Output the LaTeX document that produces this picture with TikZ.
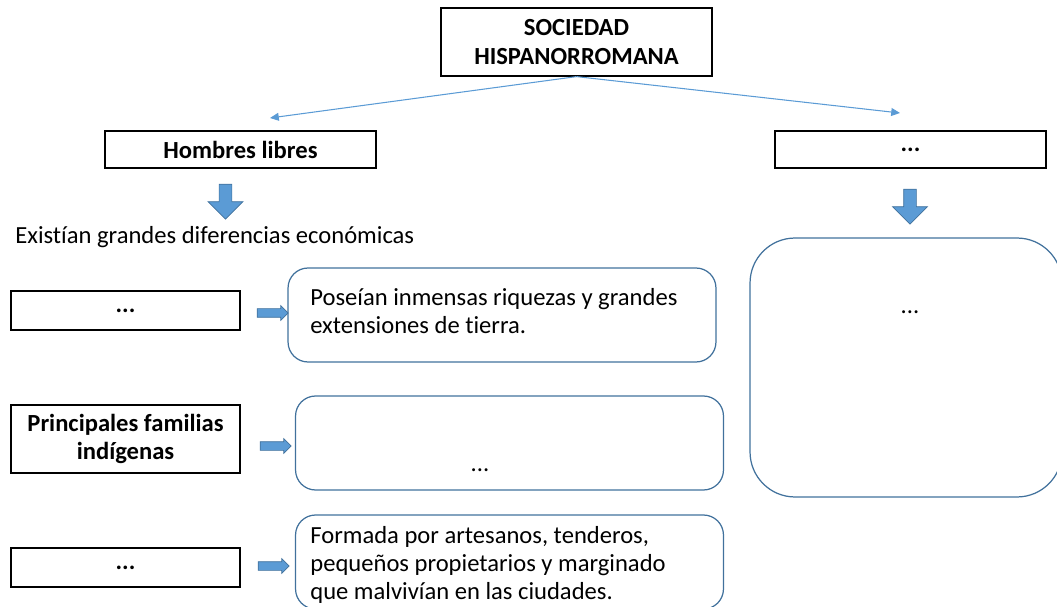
\documentclass[tikz,border=0pt]{standalone}
\usepackage{fontspec}
\setmainfont{Carlito}[Ligatures=NoCommon]
\usepackage{xcolor}
\usepackage{tikz}
\usetikzlibrary{shapes,arrows,arrows.meta,positioning}

\definecolor{flecha}{RGB}{91,155,213}
\definecolor{borde}{RGB}{65,113,156}

\begin{document}
\begin{tikzpicture}[
    x=0.02cm, y=-0.02cm,
    font=\fontsize{14}{16}\selectfont,
    caja/.style={draw=black, line width=0.7pt, inner sep=0pt, align=center, font=\fontsize{14}{16}\selectfont\bfseries},
    globo/.style={draw=borde, line width=0.7pt, rounded corners=0.4cm, minimum width=8.56cm, minimum height=1.88cm},
    texto/.style={anchor=west, align=left, inner sep=0pt},
    bajada/.style={single arrow, draw=borde, fill=flecha, line width=0.4pt, inner sep=0.09cm,
        shape border rotate=270, minimum height=0.7cm, minimum width=0.7cm, single arrow head extend=0.17cm},
    paso/.style={single arrow, draw=borde, fill=flecha, line width=0.4pt, inner sep=0.08cm,
        minimum height=0.62cm, minimum width=0.28cm, single arrow head extend=0.06cm},
    fina/.style={draw=flecha, line width=0.6pt, -{Triangle[width=4.5pt,length=5pt]}}
]
    \useasboundingbox (0,0) rectangle (1057,607);

    % cabecera
    \node[caja, minimum width=5.42cm, minimum height=1.36cm] (sociedad) at (576.5,42) {SOCIEDAD\\HISPANORROMANA};
    \coordinate (izq) at (270,118);
    \coordinate (der) at (900,113);
    \draw[fina] (sociedad.south) -- (izq);
    \draw[fina] (sociedad.south) -- (der);

    % dos grupos
    \node[caja, minimum width=5.42cm, minimum height=0.74cm] (libres) at (240.5,149.5) {Hombres libres};
    \node[caja, minimum width=5.42cm, minimum height=0.74cm] (otros) at (910.5,149.5) {...};
    \node[bajada] (bajaIzq) at (225.5,198.5) {};
    \node[bajada] (bajaDer) at (910,203.5) {};

    \node[anchor=west, inner sep=0pt] (diferencias) at (15,237) {Existían grandes diferencias económicas};

    % columna izquierda
    \node[caja, minimum width=4.58cm, minimum height=0.78cm] (grupoA) at (125.5,310.5) {...};
    \node[caja, minimum width=4.58cm, minimum height=1.36cm] (grupoB) at (125.5,439) {Principales familias\\indígenas};
    \node[caja, minimum width=4.58cm, minimum height=0.78cm] (grupoC) at (125.5,567.5) {...};

    \node[paso] (pasoA) at (270.5,313) {};
    \node[paso] (pasoB) at (273.5,446) {};
    \node[paso] (pasoC) at (271.5,566) {};

    % descripciones
    \node[globo] (descA) at (502,315) {};
    \node[texto] at (310,311) {Poseían inmensas riquezas y grandes\\extensiones de tierra.};
    \node[globo] (descB) at (509.5,443) {};
    \node at (480,470) {...};
    \node[globo] (descC) at (509.5,562) {};
    \node[texto] at (310,565) {Formada por artesanos, tenderos,\\pequeños propietarios y marginado\\que malvivían en las ciudades.};

    % columna derecha
    \node[draw=borde, line width=0.7pt, rounded corners=0.9cm, minimum width=6.24cm, minimum height=5.18cm] (descD) at (906,367.5) {};
    \node at (910,312) {...};
\end{tikzpicture}
\end{document}
